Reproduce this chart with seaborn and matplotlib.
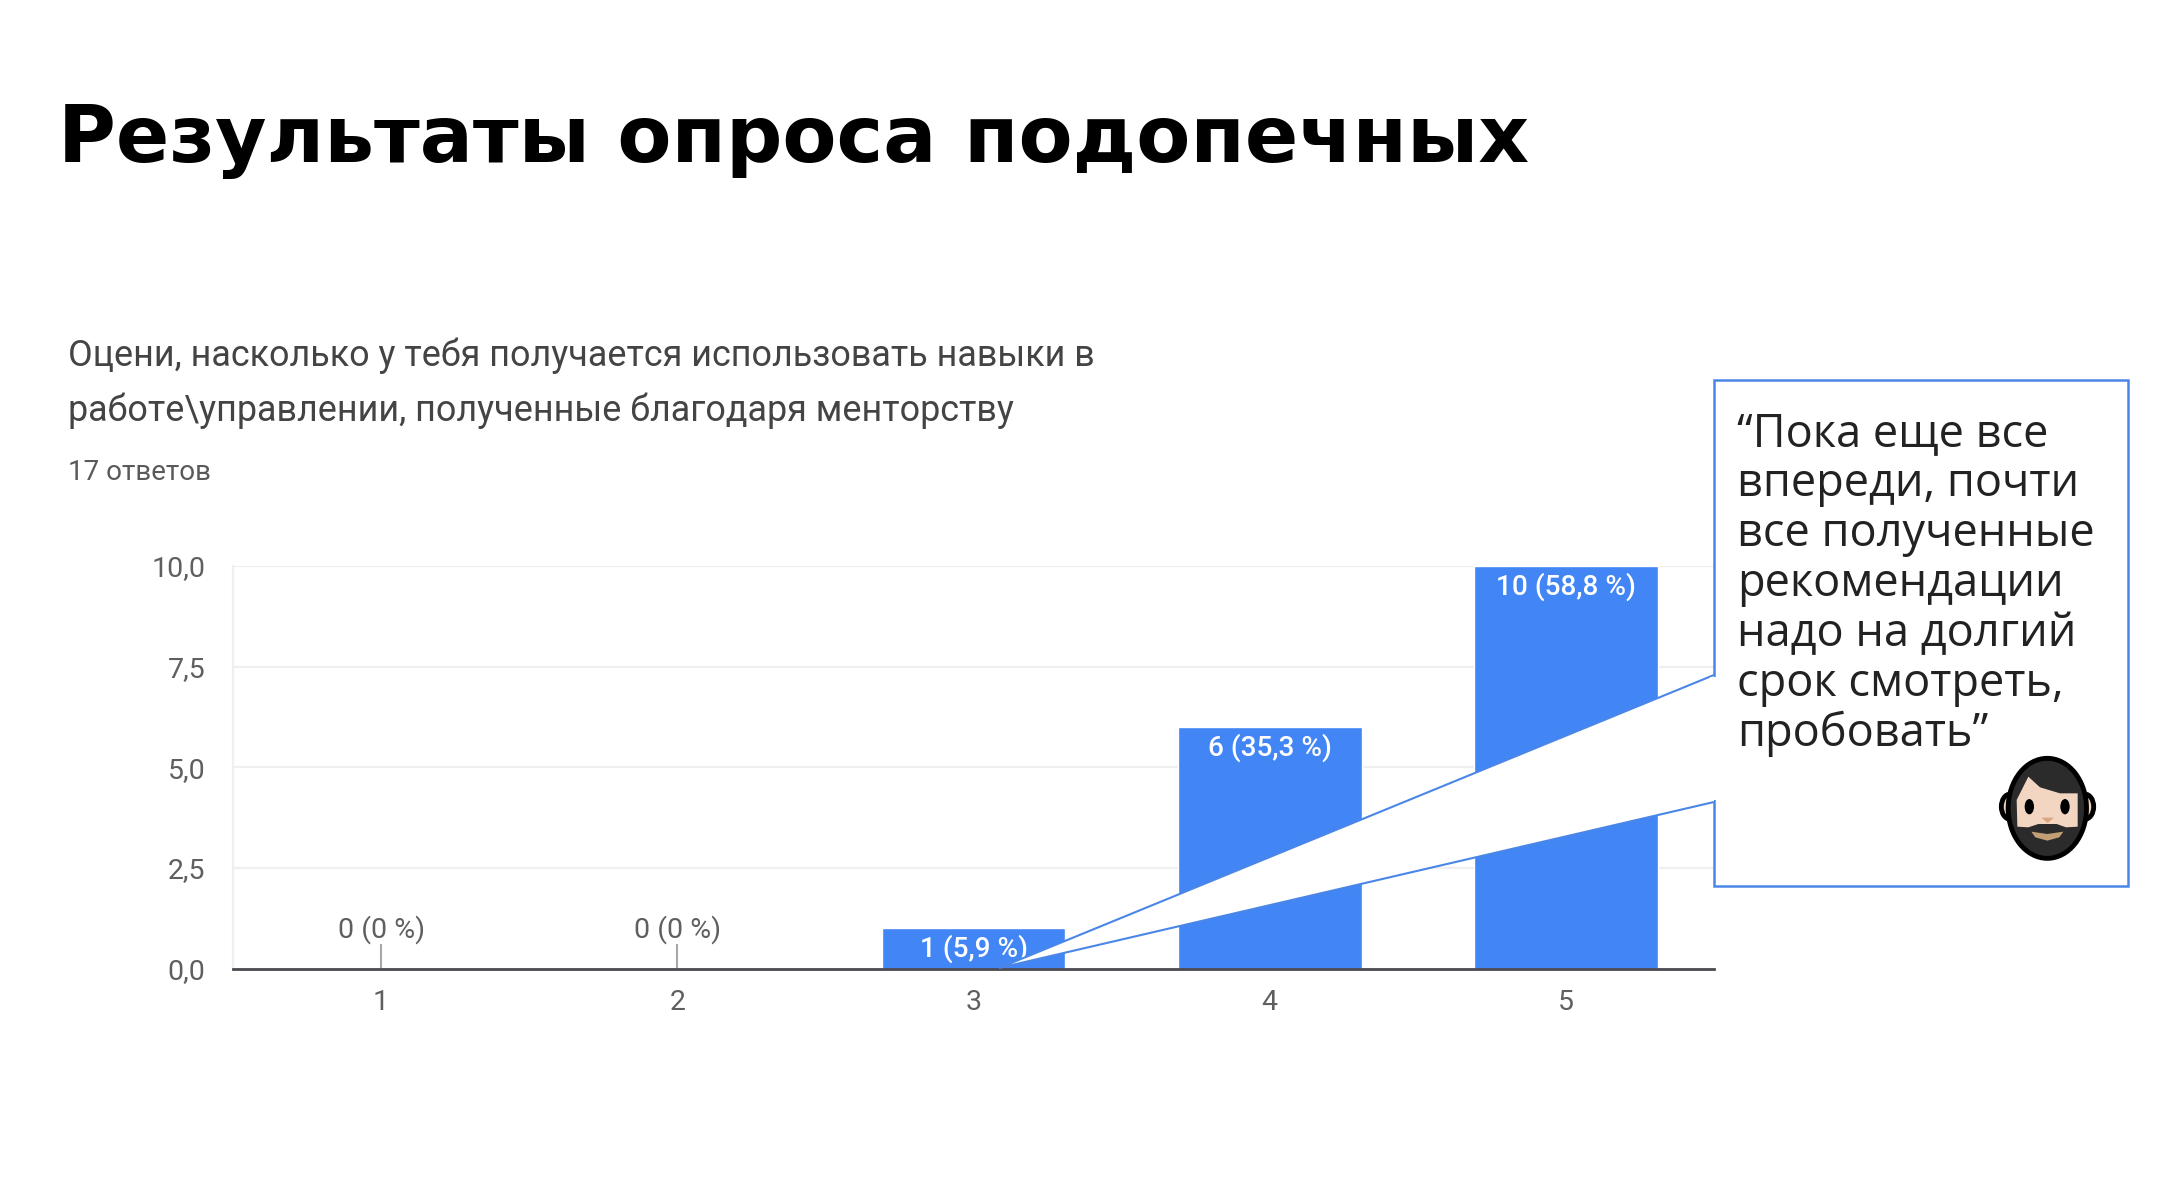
import matplotlib
matplotlib.use("Agg")
import matplotlib.pyplot as plt
from matplotlib.patches import Ellipse, Polygon, Rectangle
import pandas as pd
import seaborn as sns

# chart values
grades = ["1", "2", "3", "4", "5"]
answers = [0, 0, 1, 6, 10]
shares = ["0 %", "0 %", "5,9 %", "35,3 %", "58,8 %"]
y_ticks = [0, 2.5, 5, 7.5, 10]
y_labels = ["0,0", "2,5", "5,0", "7,5", "10,0"]

title = "Результаты опроса подопечных"
question = ["Оцени, насколько у тебя получается использовать навыки в",
            "работе\\управлении, полученные благодаря менторству"]
n_answers = "17 ответов"
quote = ["“Пока еще все", "впереди, почти", "все полученные", "рекомендации",
         "надо на долгий", "срок смотреть,", "пробовать”"]

W, H = 2160, 1198
BLUE = "#4285f4"
GREY = "#5f5f5f"

sns.set_theme(style="white")
plt.rcParams["font.family"] = ["Roboto", "DejaVu Sans"]

fig = plt.figure(figsize=(W / 100, H / 100), dpi=100, facecolor="white")

# axes placed to the pixel positions of the screenshot
ax = fig.add_axes([233 / W, 1 - 968.5 / H, (1714 - 233) / W, (968.5 - 566) / H])
df = pd.DataFrame({"grade": grades, "answers": answers})
sns.barplot(data=df, x="grade", y="answers", color=BLUE, saturation=1, width=0.62, ax=ax)

ax.set_xlim(-0.5, 4.5)
ax.set_ylim(0, 10)
ax.set_yticks(y_ticks)
ax.set_yticklabels(y_labels)
ax.set_xlabel("")
ax.set_ylabel("")
ax.tick_params(axis="both", length=0, labelsize=20.5, labelcolor=GREY)
ax.tick_params(axis="x", pad=15)
ax.tick_params(axis="y", pad=20)
ax.grid(axis="y", color="#efefef", lw=1.6)
ax.set_axisbelow(True)
for side in ["top", "right"]:
    ax.spines[side].set_visible(False)
ax.spines["left"].set_color("#efefef")
ax.spines["left"].set_linewidth(1.6)
ax.spines["bottom"].set_color("#4a4a50")
ax.spines["bottom"].set_linewidth(2)

for i, (n, s) in enumerate(zip(answers, shares)):
    label = f"{n} ({s})"
    if n == 0:
        ax.vlines(i, 0, 0.6, color="#a8a8a8", lw=1.5)
        ax.annotate(label, (i, 0), xytext=(0, 28), textcoords="offset points",
                    ha="center", va="center", fontsize=20.5, color=GREY)
    else:
        ax.annotate(label, (i, n), xytext=(0, -15), textcoords="offset points",
                    ha="center", va="center", fontsize=20.2, color="white", fontweight="medium")

# overlay in screenshot pixels for slide title, callout and texts
over = fig.add_axes([0, 0, 1, 1], facecolor="none")
over.set_xlim(0, W)
over.set_ylim(H, 0)
over.axis("off")

over.text(58, 141, title, fontsize=56.8, fontweight="bold", family="DejaVu Sans",
          color="black", ha="left", va="center")
for k, line in enumerate(question):
    over.text(68, 356 + k * 54.5, line, fontsize=25.8, color="#444444", ha="left", va="center")
over.text(68, 472, n_answers, fontsize=20, color="#5a5a5a", ha="left", va="center")

over.add_patch(Rectangle((1714, 380), 414, 506, fc="white", ec="#4a86e8", lw=1.8))
over.add_patch(Polygon([(1714, 675), (999, 968), (1714, 802)], closed=False,
                       fc="white", ec="#4a86e8", lw=1.5))
# hide the box edge where the callout joins it
over.add_patch(Rectangle((1710, 677), 8, 123, fc="white", ec="none"))
for k, line in enumerate(quote):
    over.text(1737, 434 + k * 50, line, fontsize=32.5, family="Open Sans",
              color="#222222", ha="left", va="center")

# bearded face emoji, units are 1/3 px
em = fig.add_axes([1960 / W, 1 - 890 / H, 160 / W, 160 / H], facecolor="none")
em.set_xlim(0, 480)
em.set_ylim(480, 0)
em.axis("off")
for cx in [150, 375]:
    em.add_patch(Ellipse((cx, 230), 52, 75, fc="#f1d3bf", ec="black", lw=3.5))
em.add_patch(Ellipse((262, 235), 235, 300, fc="#2b2b2b", ec="black", lw=3.5))
em.add_patch(Polygon([(172, 290), (170, 210), (205, 140), (240, 172), (300, 190), (353, 190),
                      (353, 290), (318, 292), (290, 282), (235, 282), (205, 292)],
                     fc="#f3d6c2", ec="none"))
for cx in [208, 315]:
    em.add_patch(Ellipse((cx, 230), 28, 46, fc="black", ec="none"))
em.add_patch(Polygon([(244, 263), (282, 263), (263, 279)], fc="#dba57f", ec="none"))
em.add_patch(Polygon([(214, 305), (262, 312), (310, 305), (298, 322), (262, 332), (226, 322)],
                     fc="#c39d74", ec="none"))

fig.savefig("out.png", dpi=100, facecolor="white")
